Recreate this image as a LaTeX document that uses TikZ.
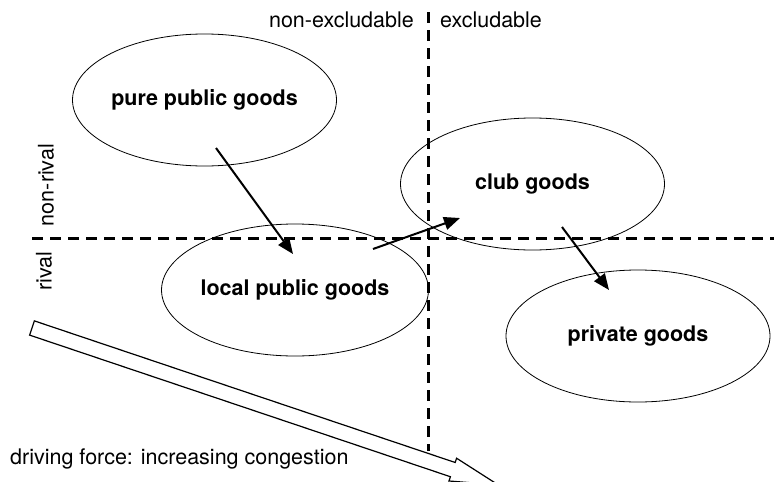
\documentclass[tikz,border=0pt]{standalone}
\usepackage{fontspec}
\setmainfont{TeX Gyre Heros}
\usetikzlibrary{shapes.geometric,arrows.meta}
\begin{document}
\begin{tikzpicture}[x=1pt, y=-1pt, font=\fontsize{21.5}{25}\selectfont, goods/.style={ellipse, draw, line width=.8pt, minimum width=264pt, minimum height=132pt, inner sep=0pt, font=\fontsize{21.5}{25}\selectfont\bfseries}, flow/.style={line width=2pt, -{Triangle[length=16pt,width=13pt]}}, border/.style={line width=3pt, dash pattern=on 11pt off 7pt}, side/.style={inner sep=0pt}]

\useasboundingbox (0,0) rectangle (774,482);

\draw[border] (428,12) -- (428,451);
\draw[border] (32,238) -- (774,238);

\node[side, anchor=east] (nonexcl) at (414,20) {non-excludable};
\node[side, anchor=west] (excl) at (440,20) {excludable};
\node[side, rotate=90] (nonrival) at (46,185) {non-rival};
\node[side, rotate=90] (rival) at (44,271) {rival};

\node[goods] (pure) at (204.5,100) {pure public goods};
\node[goods] (club) at (532.5,184) {club goods};
\node[goods] (local) at (295,290) {local public goods};
\node[goods] (private) at (638,336) {private goods};

\draw[flow] ([shift={(11.5,48)}]pure.center) -- ([shift={(-2,-36)}]local.center);
\draw[flow] ([shift={(78,-41)}]local.center) -- ([shift={(-72.5,34)}]club.center);
\draw[flow] ([shift={(29.5,43)}]club.center) -- ([shift={(-29,-46)}]private.center);

\begin{scope}[shift={(32,328)}, rotate=-18.6]
\draw[line width=1.2pt, fill=white] (0,-7.5) -- (444,-7.5) -- (444,-12) -- (492,0) -- (444,12) -- (444,7.5) -- (0,7.5) -- cycle;
\end{scope}

\node[side, anchor=west] (force) at (10,459) {driving force: increasing congestion};
\end{tikzpicture}
\end{document}
